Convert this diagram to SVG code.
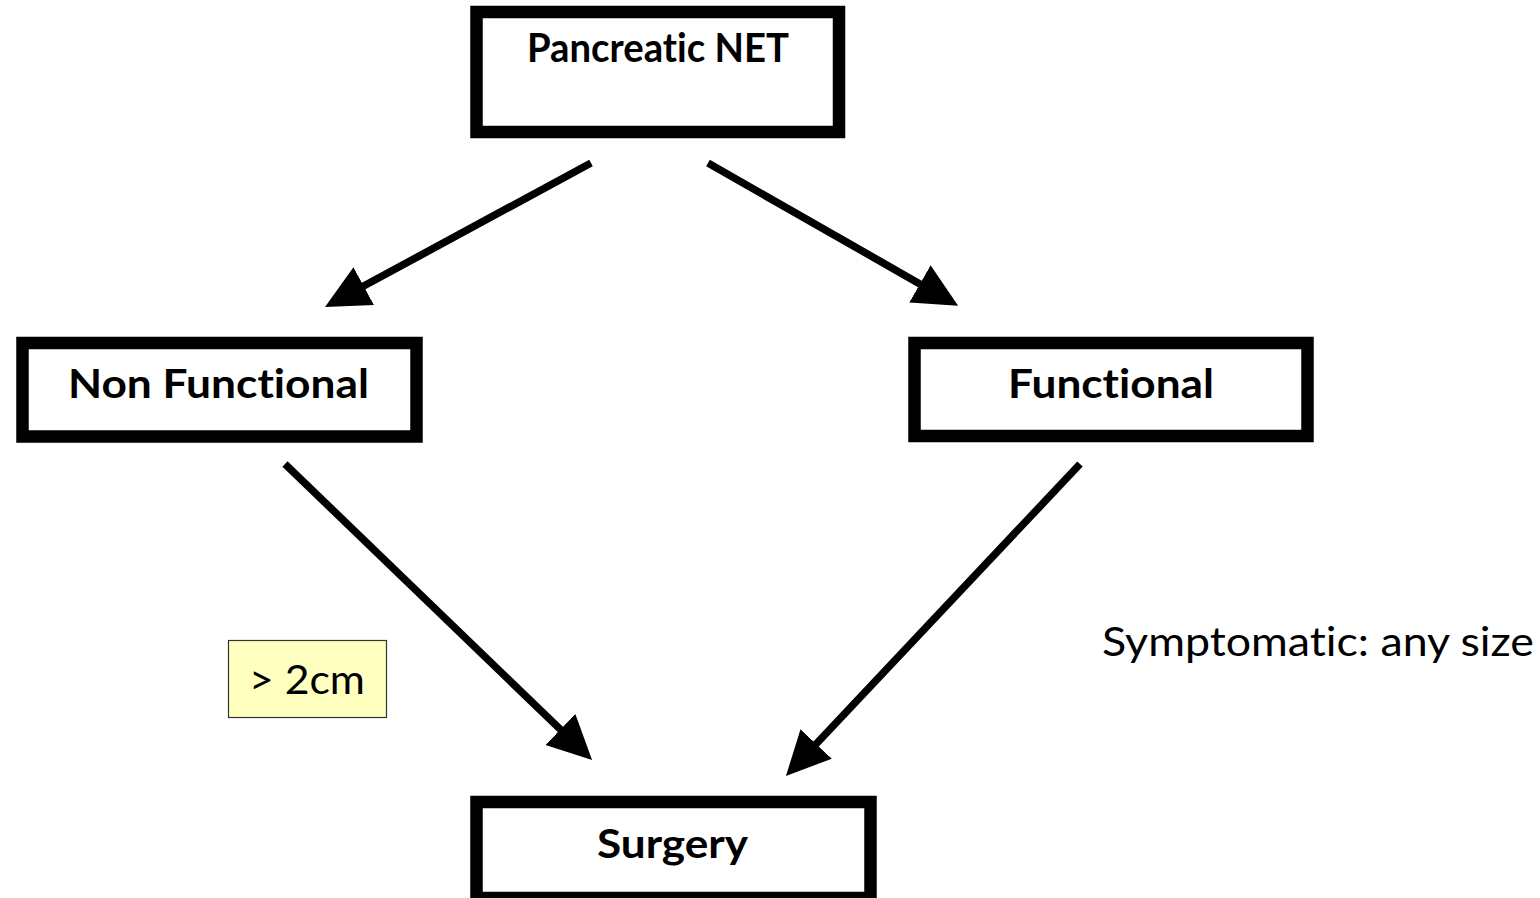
<svg xmlns="http://www.w3.org/2000/svg" width="1540" height="898" viewBox="0 0 1540 898">
<style>
.box{fill:#ffffff;stroke:#000000;stroke-width:12.5}
.lbl{font-family:Lato,"Open Sans","Liberation Sans",sans-serif;font-weight:bold;font-size:40px;fill:#000;font-variant-ligatures:none;font-feature-settings:"liga" 0}
.txt{font-family:Lato,"Open Sans","Liberation Sans",sans-serif;font-size:40px;fill:#000;font-variant-ligatures:none;font-feature-settings:"liga" 0}
.conn{stroke:#000;stroke-width:7.5;fill:none;marker-end:url(#ah)}
.note{fill:#ffffc0;stroke:#333;stroke-width:1.2}
</style>
<defs>
<marker id="ah" markerUnits="userSpaceOnUse" markerWidth="46" markerHeight="46" refX="10" refY="21.5" orient="auto" viewBox="0 0 46 46">
<path d="M0,0 L44,21.5 L0,43 Z" fill="#000"/>
</marker>
</defs>
<rect width="1540" height="898" fill="#ffffff"/>
<g id="connectors">
<line class="conn" x1="591" y1="163" x2="354.9" y2="290.8"/>
<line class="conn" x1="708" y1="163" x2="928.6" y2="288.9"/>
<line class="conn" x1="285" y1="464" x2="567.6" y2="736.4"/>
<line class="conn" x1="1080" y1="464" x2="809.3" y2="751.2"/>
</g>
<g id="node-pnet">
<rect class="box" x="476.5" y="12" width="362.5" height="120"/>
<text class="lbl" x="527" y="62" textLength="262" lengthAdjust="spacingAndGlyphs">Pancreatic NET</text>
</g>
<g id="node-nonfunctional">
<rect class="box" x="22.5" y="343" width="394" height="93.5"/>
<text class="lbl" x="68" y="398" textLength="301" lengthAdjust="spacingAndGlyphs">Non Functional</text>
</g>
<g id="node-functional">
<rect class="box" x="914.5" y="343" width="393" height="93"/>
<text class="lbl" x="1008" y="398" textLength="206" lengthAdjust="spacingAndGlyphs">Functional</text>
</g>
<g id="node-surgery">
<rect class="box" x="476.5" y="802" width="394" height="96"/>
<text class="lbl" x="597" y="858" textLength="151" lengthAdjust="spacingAndGlyphs">Surgery</text>
</g>
<g id="note-size">
<rect class="note" x="228.5" y="640.5" width="158" height="77"/>
<text class="txt" x="249" y="694" textLength="116" lengthAdjust="spacingAndGlyphs">&gt; 2cm</text>
</g>
<g id="note-symptomatic">
<text class="txt" x="1102" y="656" textLength="432" lengthAdjust="spacingAndGlyphs">Symptomatic: any size</text>
</g>
</svg>
